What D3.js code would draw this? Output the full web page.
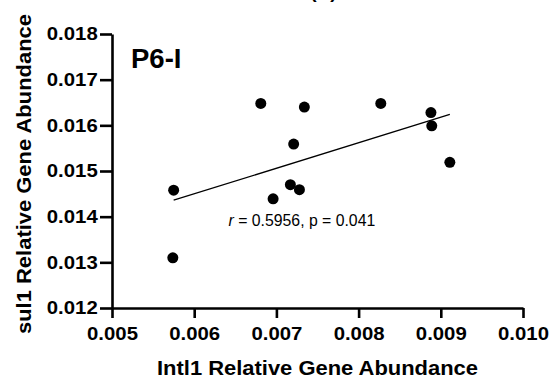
<!DOCTYPE html>
<html>
<head>
<meta charset="utf-8">
<script src="https://cdn.jsdelivr.net/npm/d3@7"></script>
<style>
  body { margin: 0; background: #fff; }
  text { font-family: "Liberation Sans", Arial, sans-serif; }
</style>
</head>
<body>
<div id="chart-area"></div>
<script>
// values
var intl1 = [0.00575, 0.00574, 0.00681, 0.00734, 0.00827, 0.00721, 0.00717, 0.00728, 0.00696, 0.00888, 0.00889, 0.00911];
var sul1  = [0.01458, 0.01310, 0.01648, 0.01640, 0.01648, 0.01559, 0.01470, 0.01459, 0.01439, 0.01628, 0.01599, 0.01519];
var fitX = [0.00575, 0.00911];
var fitY = [0.01436, 0.01624];
var xTicks = [0.005, 0.006, 0.007, 0.008, 0.009, 0.010];
var yTicks = [0.012, 0.013, 0.014, 0.015, 0.016, 0.017, 0.018];

var margin = { top: 34, right: 29, bottom: 71, left: 112 },
    width = 552 - margin.left - margin.right,
    height = 379 - margin.top - margin.bottom;

var svg = d3.select("#chart-area")
    .append("svg")
    .attr("width", width + margin.left + margin.right)
    .attr("height", height + margin.top + margin.bottom)
    .append("g")
    .attr("transform", "translate(" + margin.left + "," + margin.top + ")");

var xScale = d3.scaleLinear().domain([0.005, 0.010]).range([0, width]);
var yScale = d3.scaleLinear().domain([0.012, 0.018]).range([height, 0]);

var xAxis = d3.axisBottom(xScale).tickValues(xTicks).tickFormat(d3.format(".3f")).tickSize(10).tickSizeOuter(0).tickPadding(8);
var yAxis = d3.axisLeft(yScale).tickValues(yTicks).tickFormat(d3.format(".3f")).tickSize(12).tickSizeOuter(0).tickPadding(1);

var gx = svg.append("g")
    .attr("transform", "translate(0," + height + ")")
    .call(xAxis);
var gy = svg.append("g").call(yAxis);

[gx, gy].forEach(function(g) {
    g.select(".domain").attr("stroke", "#000").attr("stroke-width", 2.6);
    g.selectAll(".tick line").attr("stroke", "#000").attr("stroke-width", 2.6);
    g.selectAll(".tick text")
        .attr("fill", "#000")
        .attr("transform", "scale(1.1,1)")
        .style("font-family", "'Liberation Sans', Arial, sans-serif")
        .style("font-size", "18.5px")
        .style("font-weight", "bold");
});
gx.selectAll(".tick text").attr("dy", "0.75em");

// axis titles
svg.append("text")
    .attr("x", width / 2)
    .attr("y", height + 67)
    .attr("text-anchor", "middle")
    .attr("textLength", 321)
    .attr("lengthAdjust", "spacingAndGlyphs")
    .style("font-size", "21px")
    .style("font-weight", "bold")
    .text("Intl1 Relative Gene Abundance");

svg.append("text")
    .attr("transform", "rotate(-90)")
    .attr("x", -(height / 2) - 3)
    .attr("y", -81)
    .attr("text-anchor", "middle")
    .attr("textLength", 320)
    .attr("lengthAdjust", "spacingAndGlyphs")
    .style("font-size", "20.5px")
    .style("font-weight", "bold")
    .text("sul1 Relative Gene Abundance");

// cut-off panel title at the very top
svg.append("text")
    .attr("x", width / 2 + 6)
    .attr("y", -margin.top - 2)
    .attr("text-anchor", "middle")
    .style("font-size", "19px")
    .style("font-weight", "bold")
    .text("(B)");

svg.append("text")
    .attr("x", 19)
    .attr("y", 34)
    .style("font-size", "27.5px")
    .style("font-weight", "bold")
    .text("P6-I");

// regression line
svg.append("line")
    .attr("x1", xScale(fitX[0]))
    .attr("y1", yScale(fitY[0]))
    .attr("x2", xScale(fitX[1]))
    .attr("y2", yScale(fitY[1]))
    .attr("stroke", "#000")
    .attr("stroke-width", 1.3);

svg.selectAll("circle")
    .data(intl1)
    .enter().append("circle")
    .attr("cx", function(d) { return xScale(d); })
    .attr("cy", function(d, i) { return yScale(sul1[i]); })
    .attr("r", 5.5)
    .attr("fill", "#000");

var ann = svg.append("text")
    .attr("x", xScale(0.006418))
    .attr("y", yScale(0.01380))
    .style("font-size", "15.8px");
ann.append("tspan").style("font-style", "italic").text("r");
ann.append("tspan").text(" = 0.5956, p = 0.041");
</script>
</body>
</html>
